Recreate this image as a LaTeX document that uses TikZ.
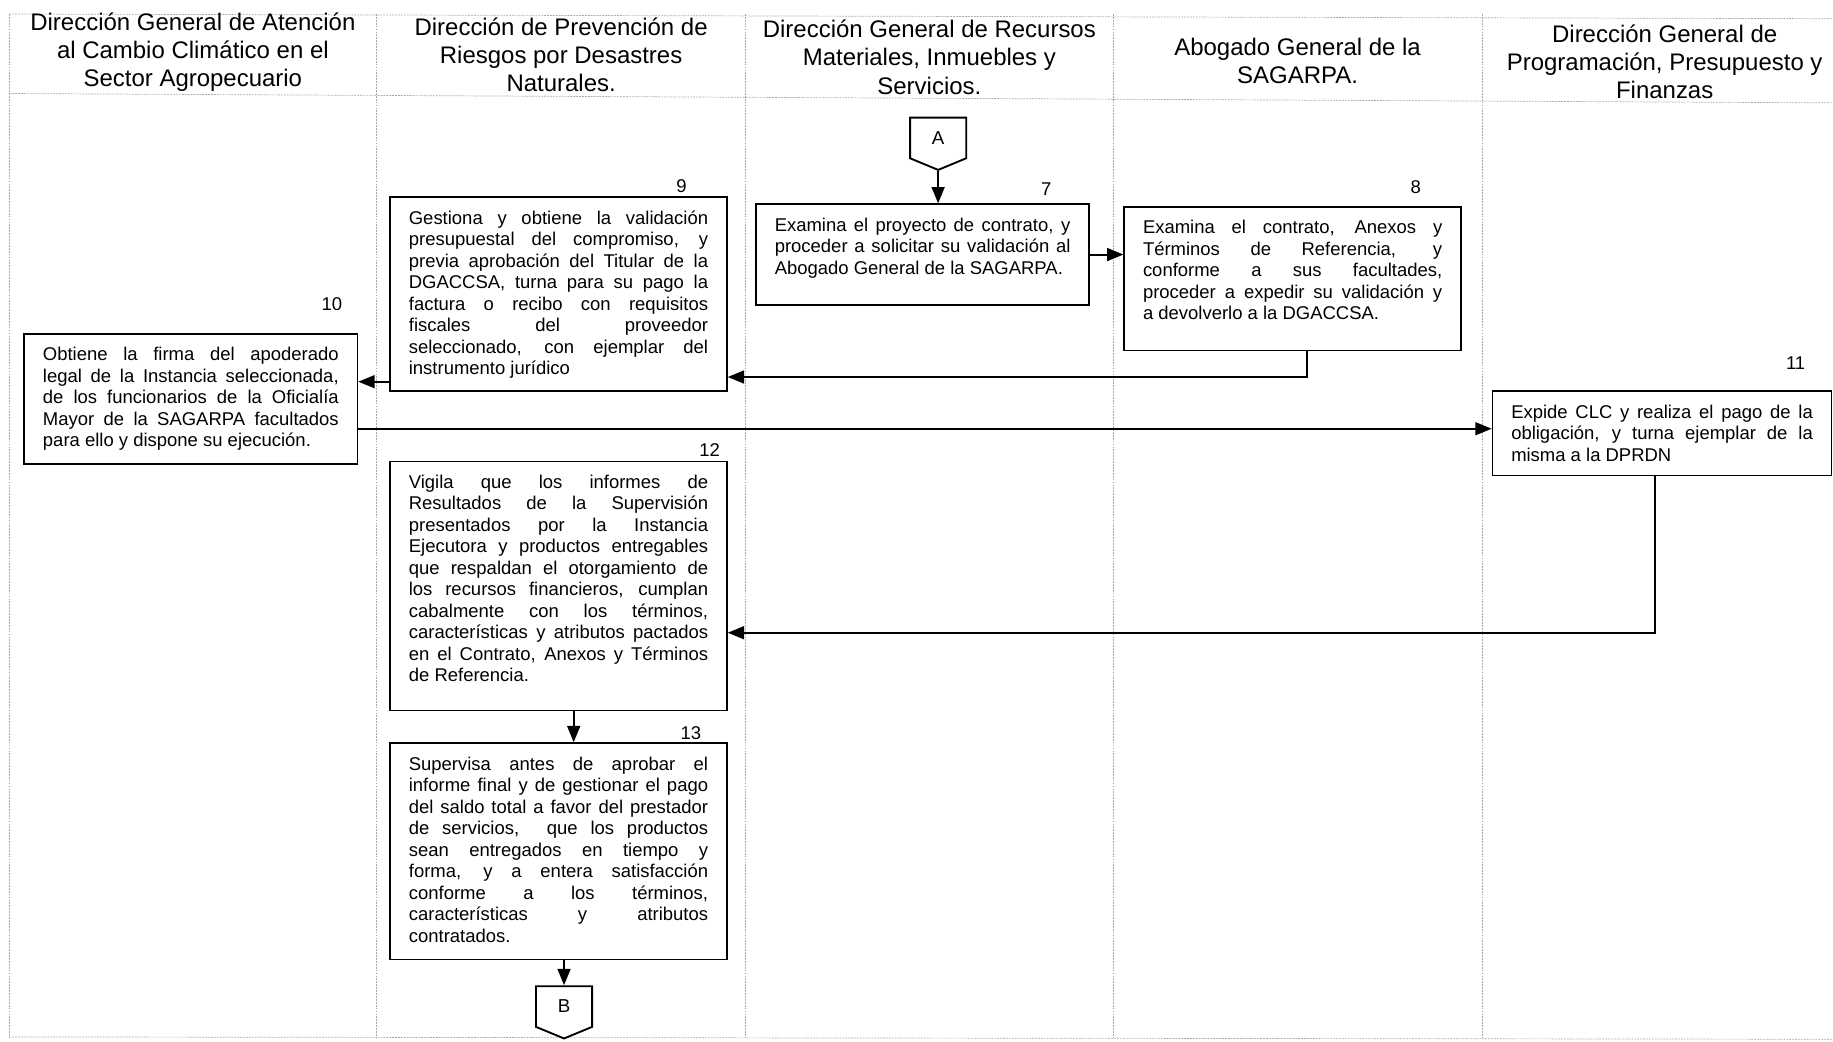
\documentclass[tikz,border=0pt]{standalone}
\usepackage{fontspec}
\setmainfont{Liberation Sans}
\usetikzlibrary{arrows.meta,shapes.symbols}

\tikzset{
  lane/.style={gray!70,line width=0.6pt,dash pattern=on 1.5pt off 1pt},
  head/.style={align=center,inner sep=0pt,font=\fontsize{20.5}{24}\selectfont},
  paso/.style={draw,line width=1.5pt,anchor=north west,inner xsep=16pt,inner ysep=11pt,
    align=justify,text height=12pt,font=\fontsize{15.8}{18.4}\selectfont},
  num/.style={inner sep=0pt,font=\fontsize{15.8}{18.4}\selectfont},
  conector/.style={draw,line width=1.6pt,signal,signal to=south,signal pointer angle=135,
    minimum width=48pt,minimum height=37pt,inner sep=0pt,font=\fontsize{16}{19}\selectfont},
  flecha/.style={line width=1.7pt,-{Triangle[length=14pt,width=11pt]}}
}

\begin{document}
\begin{tikzpicture}[x=1pt,y=-1pt]
\useasboundingbox (0,0) rectangle (1568,891);
% carriles
\draw[lane] (8,12) -- (1568,16);
\draw[lane] (8,80) -- (1568,88);
\draw[lane] (8,887) -- (1568,889);
\foreach \x in {8,322,638,952,1268}
  \draw[lane] (\x,12) -- (\x,888);

% encabezados
\node[head] (h1) at (165,45) {Dirección General de Atención\\al Cambio Climático en el\\Sector Agropecuario};
\node[head] (h2) at (480,47) {Dirección de Prevención de\\Riesgos por Desastres\\Naturales.};
\node[head] (h3) at (795,49) {Dirección General de Recursos\\Materiales, Inmuebles y\\Servicios.};
\node[head] (h4) at (1110,52) {Abogado General de la\\SAGARPA.};
\node[head] (h5) at (1424,53) {Dirección General de\\Programación, Presupuesto y\\Finanzas};

% conectores
\node[conector] (A) at (802.5,118) {A};
\node[conector] (B) at (482.5,861) {B};

% pasos
\node[paso,text width=253pt,text depth=52pt] (b7) at (646,174) {Examina el proyecto de contrato, y\linebreak
proceder a solicitar su validación al\linebreak
Abogado General de la SAGARPA.};
\node[paso,text width=256pt,text depth=89pt] (b8) at (961,176) {Examina el contrato, Anexos y\linebreak
Términos de Referencia, y\linebreak
conforme a sus facultades,\linebreak
proceder a expedir su validación y\linebreak
a devolverlo a la DGACCSA.};
\node[paso,text width=256pt,text depth=132pt] (b9) at (333,168) {Gestiona y obtiene la validación\linebreak
presupuestal del compromiso, y\linebreak
previa aprobación del Titular de la\linebreak
DGACCSA, turna para su pago la\linebreak
factura o recibo con requisitos\linebreak
fiscales del proveedor\linebreak
seleccionado, con ejemplar del\linebreak
instrumento jurídico};
\node[paso,text width=253pt,text depth=77pt] (b10) at (20,285) {Obtiene la firma del apoderado\linebreak
legal de la Instancia seleccionada,\linebreak
de los funcionarios de la Oficialía\linebreak
Mayor de la SAGARPA facultados\linebreak
para ello y dispone su ejecución.};
\node[paso,text width=258pt,text depth=38pt] (b11) at (1276,334) {Expide CLC y realiza el pago de la\linebreak
obligación, y turna ejemplar de la\linebreak
misma a la DPRDN};
\node[paso,text width=256pt,text depth=179pt] (b12) at (333,394) {Vigila que los informes de\linebreak
Resultados de la Supervisión\linebreak
presentados por la Instancia\linebreak
Ejecutora y productos entregables\linebreak
que respaldan el otorgamiento de\linebreak
los recursos financieros, cumplan\linebreak
cabalmente con los términos,\linebreak
características y atributos pactados\linebreak
en el Contrato, Anexos y Términos\linebreak
de Referencia.};
\node[paso,text width=256pt,text depth=151pt] (b13) at (333,635) {Supervisa antes de aprobar el\linebreak
informe final y de gestionar el pago\linebreak
del saldo total a favor del prestador\linebreak
de servicios, \ que los productos\linebreak
sean entregados en tiempo y\linebreak
forma, y a entera satisfacción\linebreak
conforme a los términos,\linebreak
características y atributos\linebreak
contratados.};

% numeros
\node[num] (n7) at (895,162) {7};
\node[num] (n8) at (1211,160) {8};
\node[num] (n9) at (583,159) {9};
\node[num] (n10) at (284,260) {10};
\node[num] (n11) at (1536,311) {11};
\node[num] (n12) at (607,385) {12};
\node[num] (n13) at (591,627) {13};

% flechas
\draw[flecha] (A.south) -- (A.south |- b7.north);
\draw[flecha] (b7.east) -- (b7.east -| b8.west);
\draw[flecha] ([xshift=12pt]b8.south) |- ([yshift=13pt]b9.south east);
\draw[flecha] ([yshift=9pt]b9.south west) -- ([yshift=9pt]b9.south west -| b10.east);
\coordinate (e11) at ([yshift=4pt]b11.west);
\draw[flecha] (b10.east |- e11) -- (e11);
\draw[flecha] ([xshift=-6pt]b11.south) |- ([yshift=-40pt]b12.east);
\draw[flecha] ([xshift=13pt]b12.south) -- ([xshift=13pt]b12.south |- b13.north);
\draw[flecha] (b13.south -| B.north) -- (B.north);
\end{tikzpicture}
\end{document}
